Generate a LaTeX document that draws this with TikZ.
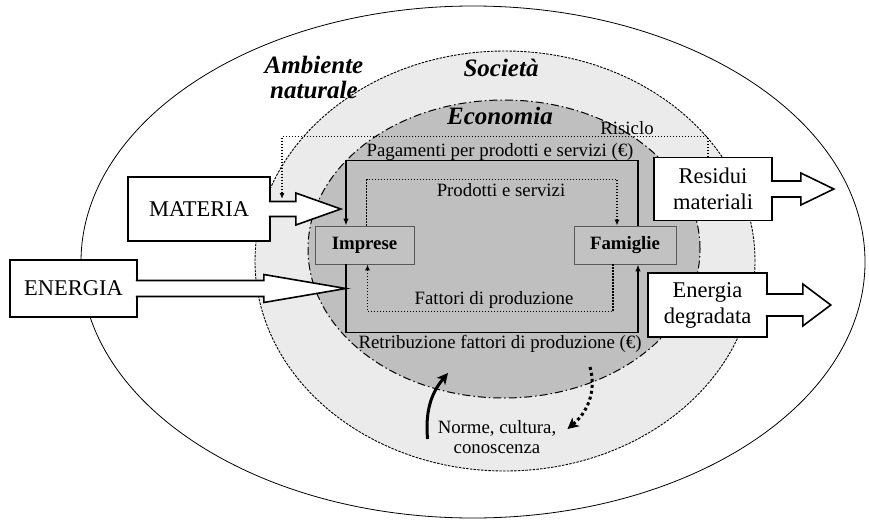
\documentclass[tikz,border=0pt]{standalone}
\usepackage{fontspec}
\setmainfont{Liberation Serif}
\usetikzlibrary{arrows.meta,positioning,shapes}

\definecolor{socgray}{gray}{0.92}
\definecolor{ecogray}{gray}{0.75}
\definecolor{boxgray}{gray}{0.76}

\begin{document}
\begin{tikzpicture}[x=1pt,y=-1pt,
  txt/.style={font=\fontsize{18.8}{21}\selectfont,inner sep=1pt},
  title/.style={font=\fontsize{25}{25}\selectfont\bfseries\itshape,align=center,inner sep=0pt},
  agent/.style={draw=black!65,fill=boxgray,line width=0.9pt,minimum height=38pt,font=\fontsize{18.8}{21}\selectfont\bfseries},
  flowbox/.style={draw,line width=1.6pt,fill=white,align=center,font=\fontsize{22.5}{26}\selectfont},
  bigarrow/.style={draw,line width=1.6pt,fill=white,line join=miter},
  money/.style={line width=1.4pt,-{Latex[length=7pt,width=5.5pt]}},
  goods/.style={line width=1.2pt,dash pattern=on 1.2pt off 1.8pt,-{Latex[length=6pt,width=5pt]}},
  culture/.style={line width=3pt,-{Stealth[length=11pt,width=11pt,inset=3pt]}}]
\useasboundingbox (0,0) rectangle (869,522);
% the three spheres
\draw[line width=0.8pt,fill=white] (473,262) ellipse [x radius=392pt,y radius=256pt];
\draw[line width=0.9pt,dash pattern=on 2.5pt off 1.2pt,fill=socgray] (505,261) ellipse [x radius=250pt,y radius=210pt];
\draw[line width=1pt,dash pattern=on 8pt off 3pt on 1.5pt off 3pt,fill=ecogray] (504,249) ellipse [x radius=196pt,y radius=149pt];
\node[title] (ambiente) at (314,77) {Ambiente\\naturale};
\node[title] (societa) at (501,68) {Società};
\node[title] (economia) at (500,116) {Economia};
% circular flow
\node[agent,minimum width=99pt] (imprese) at (364.5,245) {Imprese};
\node[agent,minimum width=102pt] (famiglie) at (625,245) {Famiglie};
\draw[money] ([xshift=13pt]famiglie.north) -- ++(0,-65) -| ([xshift=-18.5pt]imprese.north);
\draw[money] ([xshift=-18.5pt]imprese.south) -- ++(0,68) -| ([xshift=13pt]famiglie.south);
\draw[goods] ([xshift=2pt]imprese.north) -- ++(0,-46) -| ([xshift=-8pt]famiglie.north);
\draw[goods] ([xshift=-12pt]famiglie.south) -- ++(0,47) -| ([xshift=3pt]imprese.south);
\node[txt] (pagamenti) at (500,152) {Pagamenti per prodotti e servizi (€)};
\node[txt] (prodotti) at (501,190) {Prodotti e servizi};
\node[txt] (fattori) at (494,300) {Fattori di produzione};
\node[txt] (retribuzione) at (500,344) {Retribuzione fattori di produzione (€)};
% inputs and outputs
\node[flowbox,minimum width=142pt,minimum height=64pt] (materia) at (199,209) {MATERIA};
\node[flowbox,minimum width=127pt,minimum height=57pt] (energia) at (73.5,288.5) {ENERGIA};
\node[flowbox,minimum width=118pt,minimum height=63pt] (residui) at (713,189) {Residui\\materiali};
\node[flowbox,minimum width=119pt,minimum height=64pt] (degradata) at (707.5,305) {Energia\\degradata};
\draw[bigarrow] (materia.east) ++(-2,-7.5) -- ++(27,0) -- ++(0,-8.5) -- ++(45,16) -- ++(-45,16) -- ++(0,-8.5) -- ++(-27,0);
\draw[bigarrow] (energia.east) ++(-2,-8) -- ++(128,0) -- ++(0,-6) -- ++(82,14) -- ++(-82,14) -- ++(0,-6) -- ++(-128,0);
\draw[bigarrow] (residui.east) ++(-2,-8) -- ++(30,0) -- ++(0,-8) -- ++(33,16) -- ++(-33,16) -- ++(0,-8) -- ++(-30,0);
\draw[bigarrow] (degradata.east) ++(-2,-11) -- ++(37,0) -- ++(0,-10) -- ++(28,21) -- ++(-28,21) -- ++(0,-10) -- ++(-37,0);
% recycling
\coordinate (recycle) at (282,199);
\draw[goods] ([xshift=-5pt]residui.north) -- ++(0,-20) -| (recycle);
\node[txt] (risiclo) at (627,128) {Risiclo};
% norms and culture
\node[txt,align=center,font=\fontsize{18.8}{20}\selectfont] (norme) at (497,437) {Norme, cultura,\\conoscenza};
\coordinate (econin) at (448,373);
\coordinate (econout) at (590,367);
\draw[culture] ([xshift=-9pt,yshift=-2pt]norme.west) to[out=95,in=-130] (econin);
\draw[culture,dash pattern=on 3pt off 3pt] (econout) to[out=-75,in=40] ([xshift=10pt,yshift=8pt]norme.east);
\end{tikzpicture}
\end{document}
